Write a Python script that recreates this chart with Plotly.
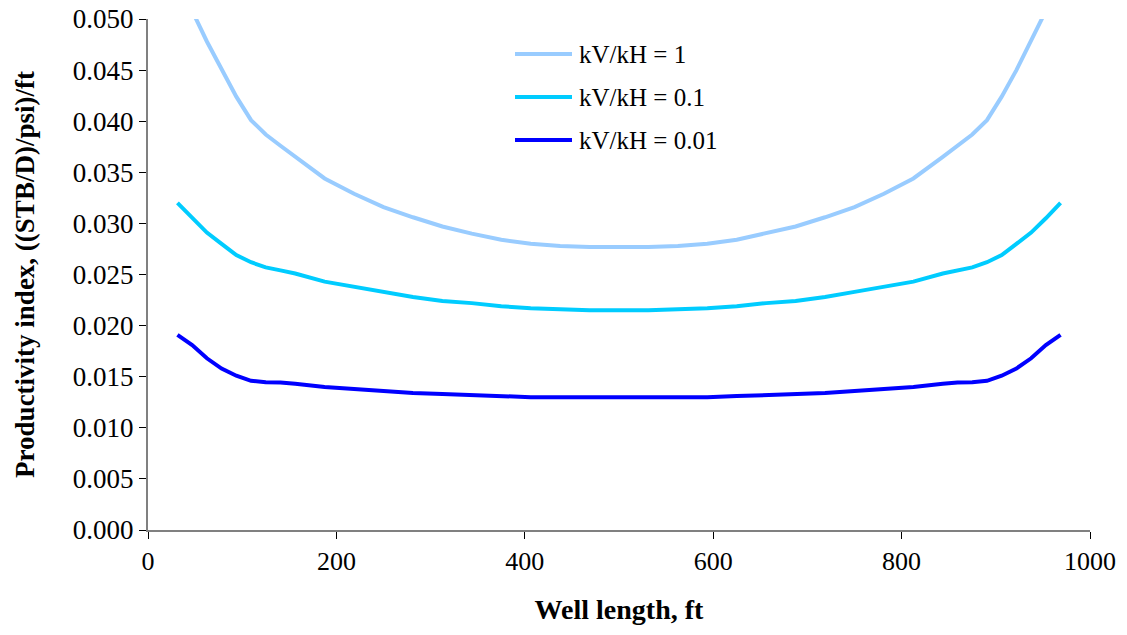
import plotly.graph_objects as go

x_half = [31.25, 46.875, 62.5, 78.125, 93.75, 109.375, 125, 140.625, 156.25, 187.5,
          218.75, 250, 281.25, 312.5, 343.75, 375, 406.25, 437.5, 468.75, 500]
kv1_half = [0.0545, 0.0508, 0.0478, 0.0450, 0.0424, 0.0401, 0.0387, 0.0376, 0.0365, 0.0344,
            0.0329, 0.0316, 0.0306, 0.0297, 0.0290, 0.0284, 0.0280, 0.0278, 0.0277, 0.0277]
kv01_half = [0.0320, 0.0305, 0.0291, 0.0280, 0.0269, 0.0262, 0.0257, 0.0254, 0.0251, 0.0243,
             0.0238, 0.0233, 0.0228, 0.0224, 0.0222, 0.0219, 0.0217, 0.0216, 0.0215, 0.0215]
kv001_half = [0.0191, 0.0181, 0.0168, 0.0158, 0.0151, 0.0146, 0.01445, 0.01443, 0.0143, 0.0140,
              0.0138, 0.0136, 0.0134, 0.0133, 0.0132, 0.0131, 0.0130, 0.0130, 0.0130, 0.0130]

x = x_half + [1000 - v for v in reversed(x_half[:-1])]
def mirror(h):
    return h + list(reversed(h[:-1]))

names = ["kV/kH = 1", "kV/kH = 0.1", "kV/kH = 0.01"]
colors = ["#99CCFF", "#00CCFF", "#0000FF"]
values = [mirror(kv1_half), mirror(kv01_half), mirror(kv001_half)]

font = "Liberation Serif, Times New Roman, serif"
fig = go.Figure()
for name, y, c in zip(names, values, colors):
    fig.add_trace(go.Scatter(x=x, y=y, mode="lines", name=name, showlegend=False,
                             line=dict(color=c, width=4)))

# Manual legend (paper coordinates)
plot_l, plot_r, plot_t, plot_b = 148, 1090, 19, 530
def px(v):
    return (v - plot_l) / (plot_r - plot_l)
def py(v):
    return (plot_b - v) / (plot_b - plot_t)
legend_rows = [54, 97, 140]
for name, c, ry in zip(names, colors, legend_rows):
    fig.add_shape(type="line", xref="paper", yref="paper",
                  x0=px(515), x1=px(572), y0=py(ry), y1=py(ry),
                  line=dict(color=c, width=4))
    fig.add_annotation(xref="paper", yref="paper", x=px(577), y=py(ry),
                       xanchor="left", yanchor="middle", showarrow=False,
                       text=name, font=dict(size=25, family=font, color="black"))

fig.update_layout(
    width=1127, height=635,
    margin=dict(l=plot_l, r=1127 - plot_r, t=plot_t, b=635 - plot_b),
    plot_bgcolor="white", paper_bgcolor="white",
    font=dict(family=font, size=26, color="black"),
    showlegend=False,
    xaxis=dict(range=[0, 1000], dtick=200, showgrid=False, zeroline=False,
               showline=True, linecolor="#808080", linewidth=2, automargin=False,
               ticks="outside", ticklen=7, tickcolor="black", tickfont=dict(size=26),
               title=dict(text="<b>Well length, ft</b>", font=dict(size=28), standoff=24)),
    yaxis=dict(range=[0, 0.050], dtick=0.005, tickformat=".3f", showgrid=False, zeroline=False,
               showline=True, linecolor="#808080", linewidth=2, automargin=False,
               ticks="outside", ticklen=7, tickcolor="black", tickfont=dict(size=27),
               title=dict(text="<b>Productivity index, ((STB/D)/psi)/ft</b>", font=dict(size=27), standoff=30)),
)
fig.write_html("out.html")
